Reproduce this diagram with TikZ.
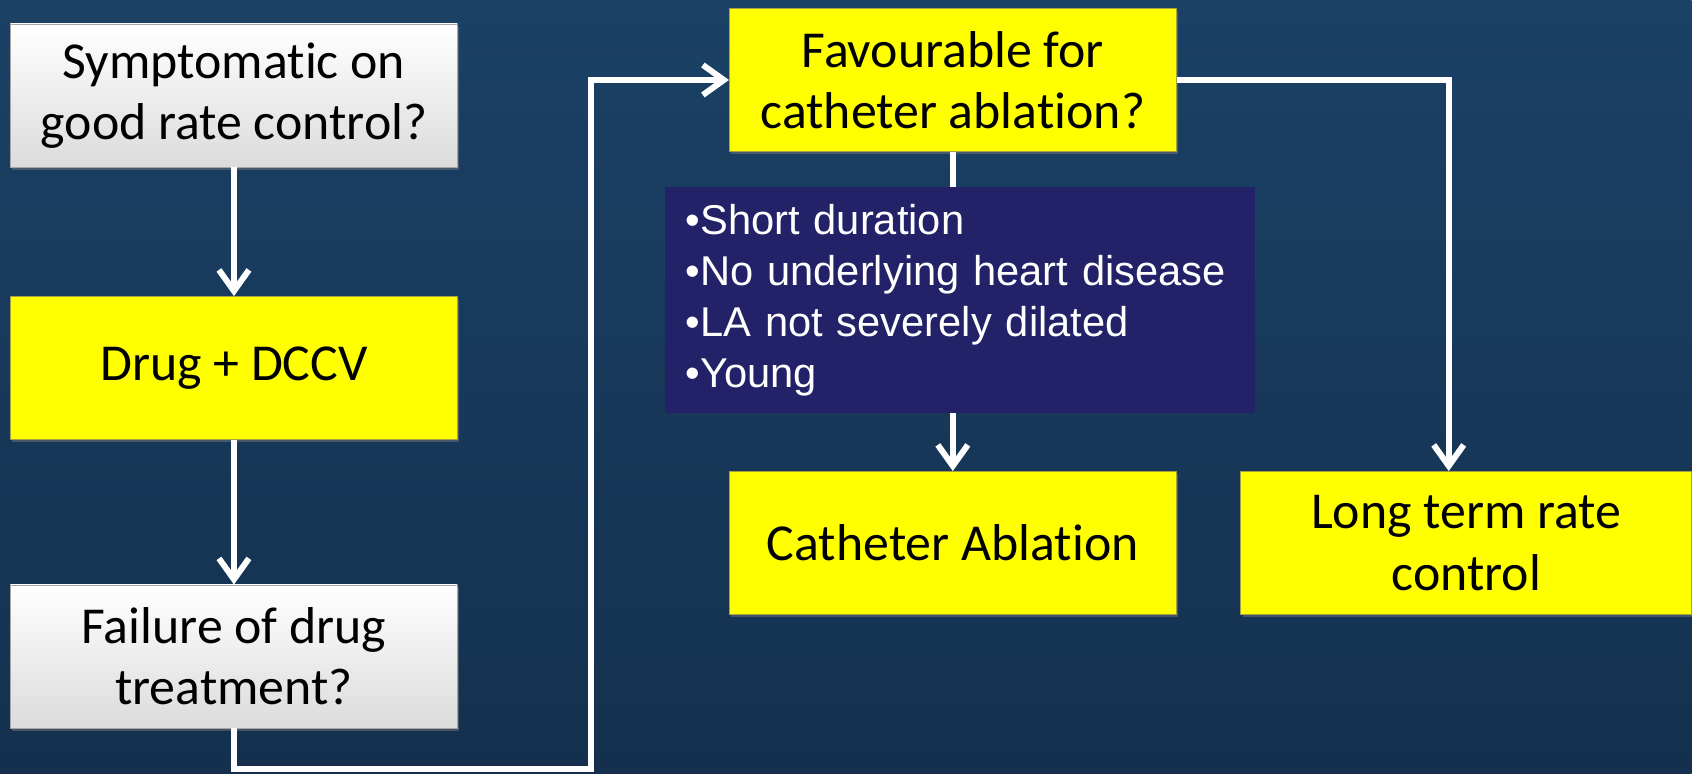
\documentclass[tikz,border=0pt]{standalone}
\usepackage{fontspec}
\setmainfont{Carlito}[Ligatures=NoCommon]
\newfontfamily\listfont{Liberation Sans}
\usetikzlibrary{arrows.meta,shadows}
\definecolor{bgtop}{RGB}{27,65,102}
\definecolor{bgbot}{RGB}{20,48,78}
\definecolor{listblue}{RGB}{35,33,104}

\begin{document}
\begin{tikzpicture}[
    whitebox/.style={draw=gray!70,thin,top color=white,bottom color=gray!28,minimum width=8.94cm,minimum height=2.86cm,align=center,font=\fontsize{29.5}{35}\selectfont,drop shadow={opacity=0.45,shadow xshift=0.04cm,shadow yshift=-0.06cm}},
    yellowbox/.style={whitebox,top color=yellow,bottom color=yellow,draw=yellow!60!black},
    flow/.style={draw=white,line width=3.4pt,-{Straight Barb[length=0.42cm,width=0.6cm,line width=3.4pt]}}
  ]
                \shade[top color=bgtop,bottom color=bgbot](0,0)rectangle(33.84,-15.48);
                \node[whitebox](sym)at(4.68,-1.91){Symptomatic on\\good rate control?};
                \node[yellowbox](drug)at(4.68,-7.36){Drug + DCCV};
                \node[whitebox](fail)at(4.68,-13.13){Failure of drug\\treatment?};
                \node[yellowbox](fav)at(19.06,-1.6){Favourable for\\catheter ablation?};
                \node[yellowbox](cath)at(19.06,-10.86){Catheter Ablation};
                \node[yellowbox,minimum width=9.02cm](long)at(29.33,-10.86){Long term rate\\control};
                \coordinate(low)at(11.82,-15.38);
                \coordinate(side)at(28.98,0);
                \draw[flow](sym)--(drug);
                \draw[flow](drug)--(fail);
                \draw[flow](fail)|-(low)|-(fav);
                \draw[flow](fav)-|(side|-long.north);
                \draw[flow](fav)--(cath);
                \node[fill=listblue,text=white,minimum width=11.8cm,minimum height=4.52cm,text width=10.96cm,inner xsep=0.42cm,align=left,font=\listfont\fontsize{23.7}{29}\selectfont](crit)at(19.2,-6.0){%
                  •Short duration\\•No underlying heart disease\\•LA not severely dilated\\•Young};
            \end{tikzpicture}
\end{document}
